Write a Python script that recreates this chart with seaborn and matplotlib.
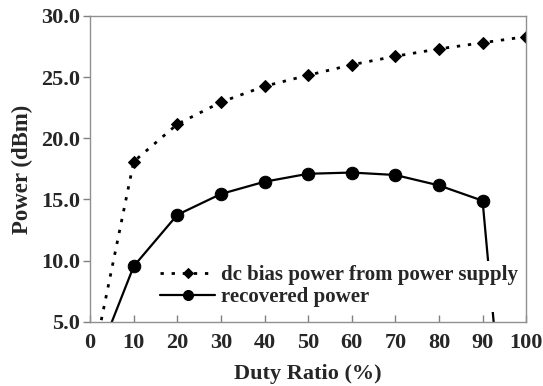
import matplotlib
matplotlib.use("Agg")
import matplotlib.pyplot as plt
import seaborn as sns
import pandas as pd

duty = [0, 10, 20, 30, 40, 50, 60, 70, 80, 90, 100]
dc_bias = [0.7, 18.1, 21.15, 22.95, 24.25, 25.15, 26.0, 26.7, 27.3, 27.8, 28.3]
recovered = [0.5, 9.55, 13.75, 15.45, 16.45, 17.1, 17.2, 17.0, 16.15, 14.9, -24.0]
x_ticks = [0, 10, 20, 30, 40, 50, 60, 70, 80, 90, 100]
y_ticks = [5.0, 10.0, 15.0, 20.0, 25.0, 30.0]
labels = ["dc bias power from power supply", "recovered power"]

sns.set_theme(style="white")
plt.rcParams['font.family'] = ['Liberation Serif', 'DejaVu Serif']
plt.rcParams['font.weight'] = 'bold'

fig = plt.figure(figsize=(5.43, 3.86), dpi=100)
ax = fig.add_axes([0.166, 0.166, 0.803, 0.793])

df1 = pd.DataFrame({"x": duty, "y": dc_bias})
df2 = pd.DataFrame({"x": duty, "y": recovered})
sns.lineplot(data=df1, x="x", y="y", ax=ax, color="black", marker="D",
             markersize=6, markeredgecolor="black", linewidth=2,
             linestyle=(0, (1.2, 2.8)), label=labels[0], sort=False)
sns.lineplot(data=df2, x="x", y="y", ax=ax, color="black", marker="o",
             markersize=9, markeredgecolor="black", linewidth=1.6,
             linestyle="-", label=labels[1], sort=False)

ax.set_xlim(0, 100)
ax.set_ylim(5, 30)
ax.set_xticks(x_ticks)
ax.set_xticklabels([str(t) for t in x_ticks])
ax.set_yticks(y_ticks)
ax.set_yticklabels([f"{t:.1f}" for t in y_ticks])
ax.tick_params(axis="x", direction="in", length=5, color="#808080", width=1,
               labelsize=16, pad=8, bottom=True)
ax.tick_params(axis="y", direction="out", length=5, color="#808080", width=1,
               labelsize=16, pad=2, left=True)
for lab in ax.get_xticklabels() + ax.get_yticklabels():
    lab.set_fontweight("bold")
for s in ax.spines.values():
    s.set_color("#909090")
    s.set_linewidth(1)

ax.set_xlabel("Duty Ratio (%)", fontsize=16, fontweight="bold", labelpad=8)
ax.set_ylabel("Power (dBm)", fontsize=16.5, fontweight="bold", labelpad=6)

leg = ax.legend(loc="lower right", bbox_to_anchor=(1.0, 0.02), frameon=True,
                fancybox=False, framealpha=1, facecolor="white",
                edgecolor="none", prop={"size": 15, "weight": "bold"},
                handlelength=2.6, handletextpad=0.3, labelspacing=0.1,
                borderpad=0.2, borderaxespad=0.2, markerscale=0.8)

fig.savefig("out.png", dpi=100)
